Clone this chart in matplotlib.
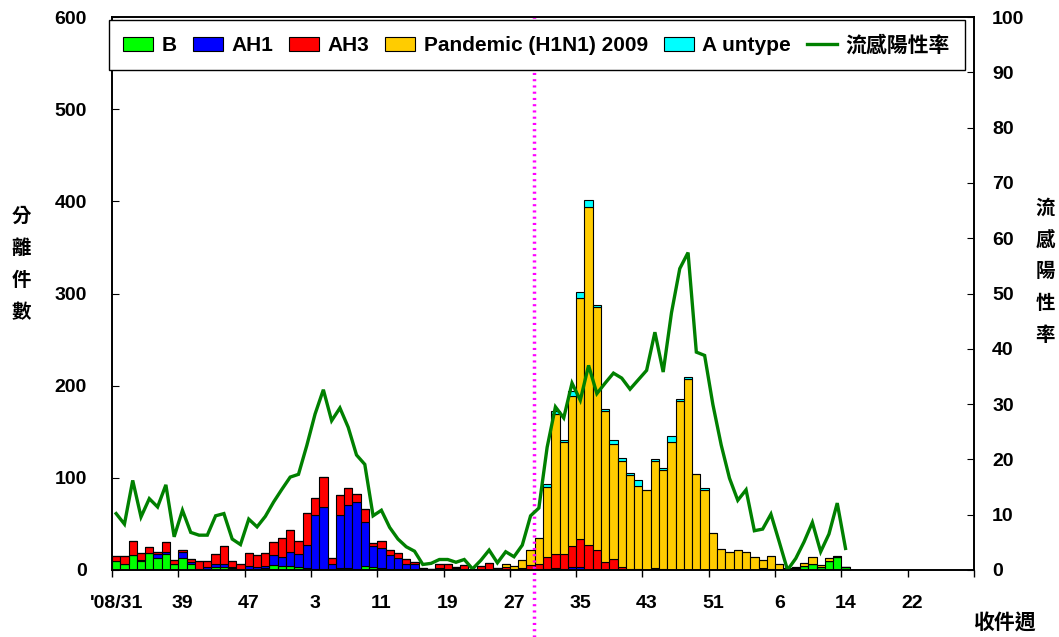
import numpy as np
import matplotlib
matplotlib.use("Agg")
import matplotlib.pyplot as plt
from matplotlib.patches import Patch
from matplotlib.lines import Line2D

plt.rcParams['font.family'] = ['Liberation Sans', 'Noto Sans CJK TC', 'DejaVu Sans']
plt.rcParams['font.weight'] = 'bold'

# weekly isolates, 2008 w31 .. 2010 w14
b_vals = [10, 6, 16, 10, 18, 13, 17, 6, 13, 6, 1, 1, 3, 3, 2, 1, 1, 1, 2, 5,
          4, 4, 3, 2, 1, 1, 1, 2, 2, 1, 4, 3, 2, 1, 1, 1, 0, 0, 1, 2,
          1, 2, 1, 0, 0, 0, 0, 0, 0, 0, 0, 0, 1, 2, 1, 0, 0, 0, 0, 0,
          0, 0, 0, 0, 0, 0, 0, 0, 0, 0, 0, 0, 0, 0, 0, 0, 0, 0, 2, 1,
          0, 0, 1, 4, 6, 3, 10, 14, 3]
ah1_vals = [0, 1, 0, 1, 0, 4, 3, 0, 6, 3, 0, 2, 3, 3, 1, 0, 3, 2, 2, 11,
            10, 15, 14, 25, 59, 67, 6, 58, 68, 73, 48, 23, 22, 15, 12, 6, 6, 1, 0, 0,
            0, 0, 0, 0, 0, 0, 0, 0, 0, 0, 0, 0, 0, 0, 0, 3, 3, 0, 0, 0,
            0, 0, 0, 0, 0, 0, 0, 0, 0, 0, 0, 0, 0, 0, 0, 0, 0, 0, 0, 0,
            0, 0, 0, 0, 0, 0, 0, 0, 0]
ah3_vals = [5, 8, 16, 7, 7, 3, 10, 5, 3, 3, 9, 7, 11, 20, 7, 5, 14, 13, 14, 14,
            21, 24, 15, 35, 18, 33, 6, 21, 19, 9, 14, 3, 8, 6, 5, 5, 3, 1, 0, 4,
            5, 1, 4, 1, 4, 8, 2, 3, 1, 2, 5, 7, 13, 15, 16, 23, 31, 27, 22, 9,
            12, 3, 1, 1, 0, 2, 1, 0, 0, 0, 0, 0, 0, 0, 0, 0, 0, 0, 0, 0,
            0, 0, 1, 0, 0, 0, 0, 0, 0]
pdm_vals = [0] * 47 + [3, 3, 9, 17, 28, 76, 152, 122, 163, 261, 367, 263, 164,
                       125, 115, 102, 90, 87, 116, 108, 139, 183, 207, 104, 87, 40,
                       23, 19, 22, 19, 14, 9, 14, 6, 2, 1, 4, 8, 2, 3, 1, 0]
unt_vals = [0] * 47 + [1, 0, 0, 0, 0, 3, 3, 2, 5, 7, 7, 3, 2,
                       4, 3, 2, 7, 0, 2, 2, 6, 2, 2, 0, 2, 0,
                       0, 0, 0, 0, 0, 0, 0, 0, 0, 0, 0, 0, 0, 0, 0, 0]
pos_rate = [10.2, 8.3, 16.2, 9.6, 12.9, 11.4, 15.4, 6.0, 10.8, 6.8, 6.3, 6.3, 9.8, 10.2,
            5.6, 4.6, 9.2, 7.8, 9.7, 12.3, 14.6, 16.8, 17.3, 22.5, 28.2, 32.6, 27.0,
            29.3, 25.8, 20.8, 19.1, 9.8, 10.8, 7.7, 5.6, 4.2, 3.4, 1.0, 1.2, 1.9, 1.9,
            1.4, 1.9, 0.2, 1.75, 3.6, 1.3, 3.3, 2.4, 4.5, 9.8, 11.2, 22.2, 29.5, 27.5,
            33.8, 30.7, 37.0, 31.9, 33.8, 35.6, 34.7, 32.7, 34.4, 36.1, 43.0, 35.8, 46.5,
            54.5, 57.4, 39.4, 38.8, 29.9, 22.6, 16.6, 12.6, 14.5, 7.1, 7.4, 10.1, 5.1,
            0.0, 2.1, 5.1, 8.6, 3.3, 6.5, 12.1, 3.9]

n_weeks = 104   # axis runs 2008 w31 .. 2010 w30
week_labels = ["'08/31", "39", "47", "3", "11", "19", "27", "35", "43", "51", "6", "14", "22"]

series = [("B", b_vals, "#00FF00"), ("AH1", ah1_vals, "#0000FF"),
          ("AH3", ah3_vals, "#FF0000"), ("Pandemic (H1N1) 2009", pdm_vals, "#FFCC00"),
          ("A untype", unt_vals, "#00FFFF")]

fig = plt.figure(figsize=(10.59, 6.37), dpi=100)
ax = fig.add_axes([112 / 1059, 67 / 637, 862 / 1059, 553 / 637])

x = np.arange(len(b_vals))
bottom = np.zeros(len(b_vals))
for name, vals, col in series:
    vals = np.array(vals, dtype=float)
    ax.bar(x, vals, width=1.0, bottom=bottom, color=col, edgecolor="black", linewidth=0.8)
    bottom += vals

ax.set_xlim(-0.5, n_weeks - 0.5)
ax.set_ylim(0, 600)
ax.set_yticks(np.arange(0, 601, 100))
ax.set_xticks(np.arange(-0.5, n_weeks, 8))
ax.set_xticklabels([])
ax.set_xticks(np.arange(0, 8 * len(week_labels), 8), minor=True)
ax.set_xticklabels(week_labels, minor=True)
ax.tick_params(axis="x", which="major", direction="out", length=5, width=1)
ax.tick_params(axis="x", which="minor", length=0, pad=18, labelsize=14)
ax.tick_params(axis="y", direction="in", length=5, pad=18, labelsize=14)

ax2 = ax.twinx()
ax2.plot(x, pos_rate, color="#008000", lw=2.4, solid_joinstyle="miter")
ax2.set_ylim(0, 100)
ax2.set_yticks(np.arange(0, 101, 10))
ax2.tick_params(axis="y", direction="in", length=5, pad=13, labelsize=14)
ax2.axvline(50.4, ymin=-0.121, ymax=1, color="#FF00FF", ls=(0, (0.6, 1.2)), lw=2.5,
            clip_on=False, zorder=1)

for a in (ax, ax2):
    for s in a.spines.values():
        s.set_linewidth(1.2)

handles = [Patch(facecolor=c, edgecolor="black", linewidth=0.8, label=n) for n, _, c in series]
handles.append(Line2D([], [], color="#008000", lw=2.4, label="流感陽性率"))
leg = ax2.legend(handles=handles, ncol=6, loc="upper left", mode="expand",
                 bbox_to_anchor=(-0.004, 0.9, 0.993, 0.095), borderaxespad=0,
                 fontsize=15, handlelength=1.45, handleheight=0.7, handletextpad=0.4,
                 columnspacing=0.8, borderpad=0.7, fancybox=False, framealpha=1)
leg.get_frame().set_edgecolor("black")
leg.get_frame().set_linewidth(1.0)
leg.set_zorder(10)

for i, ch in enumerate("分離件數"):
    fig.text(21 / 1059, 1 - (217 + 32 * i) / 637, ch, fontsize=14, ha="center", va="center")
for i, ch in enumerate("流感陽性率"):
    fig.text(1045 / 1059, 1 - (208 + 32 * i) / 637, ch, fontsize=14, ha="center", va="center")
fig.text(1004 / 1059, 1 - 624 / 637, "收件週", fontsize=15, ha="center", va="center")

fig.savefig("out.png", dpi=100)
